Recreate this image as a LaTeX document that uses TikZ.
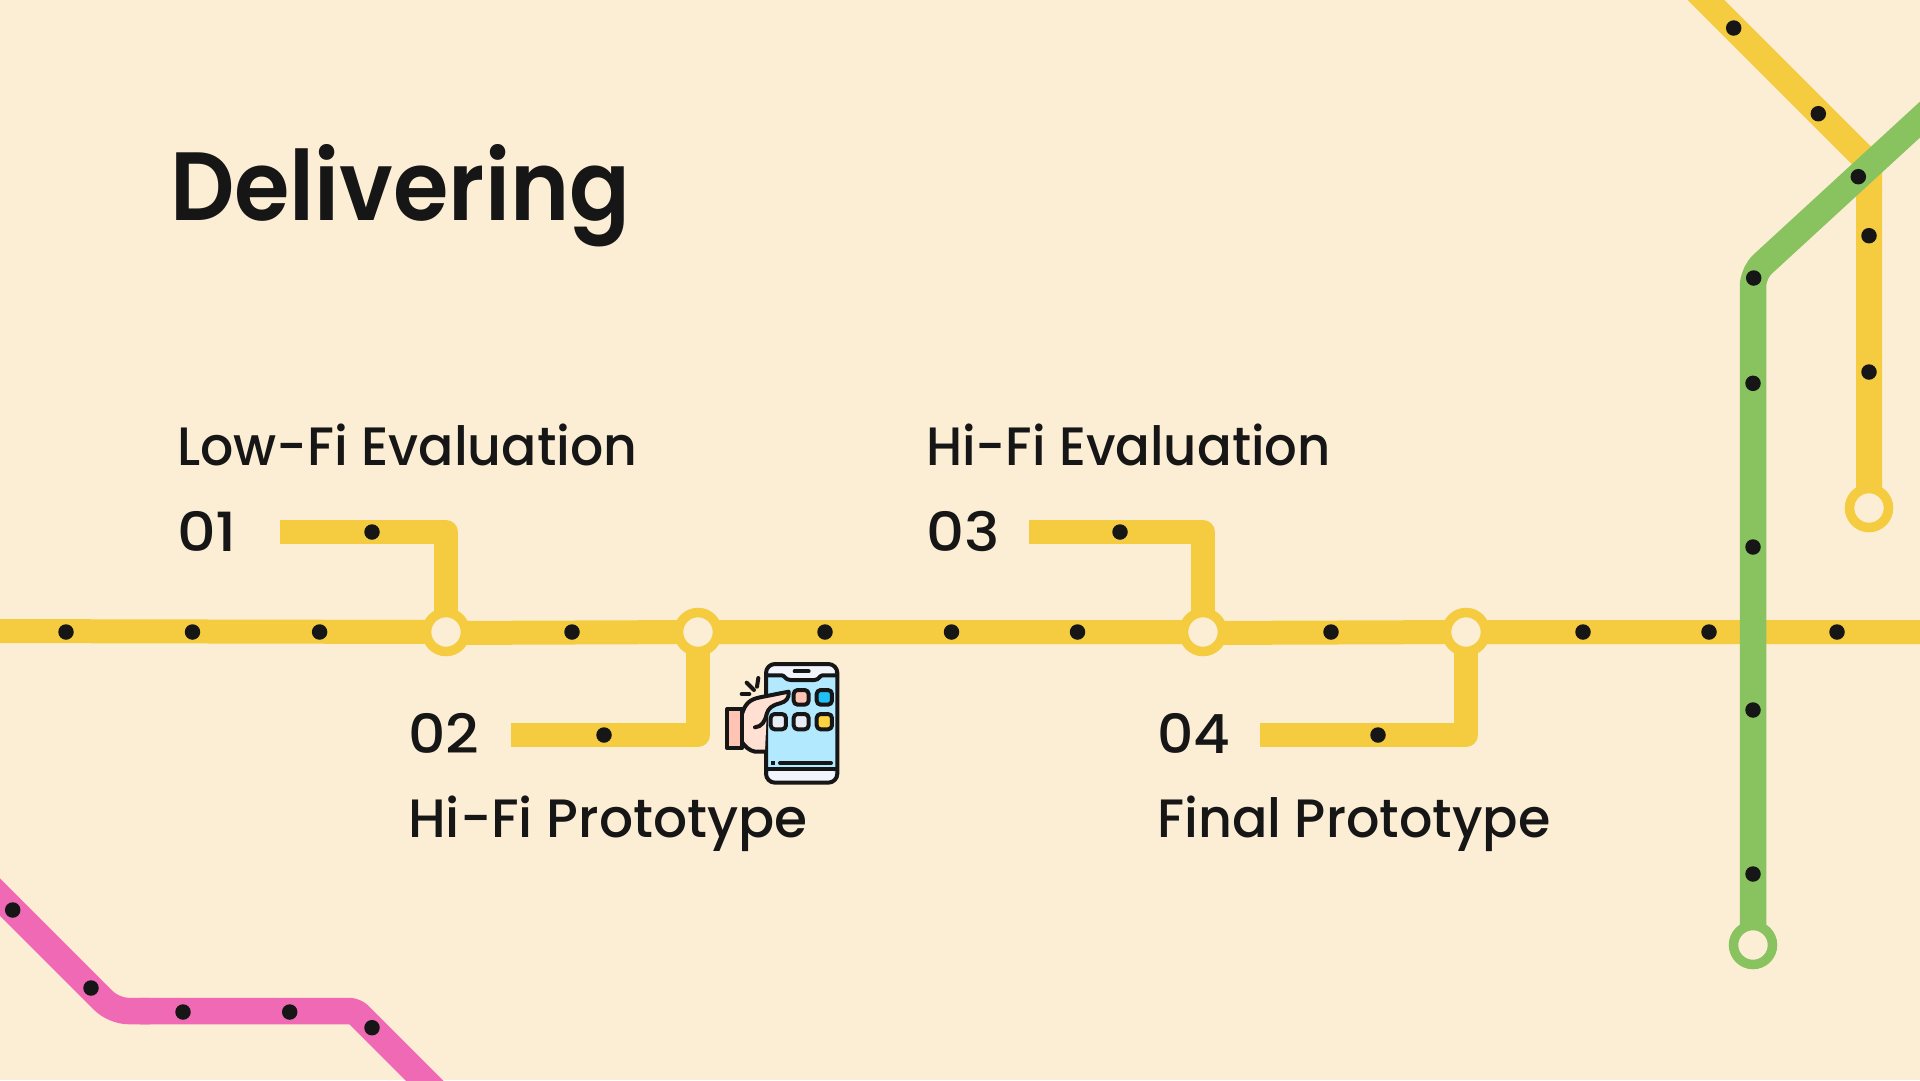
\documentclass[tikz,border=0pt]{standalone}
\usepackage{fontspec}
\setmainfont{Poppins}
\newfontfamily\titlefont{Poppins SemiBold}
\newfontfamily\labelfont{Poppins Medium}
\definecolor{bgc}{HTML}{FCEED5}
\definecolor{yel}{HTML}{F5CB3F}
\definecolor{grn}{HTML}{89C360}
\definecolor{pnk}{HTML}{F069B4}
\definecolor{ink}{HTML}{161616}
\definecolor{scr}{HTML}{B3E9FF}
\definecolor{band}{HTML}{F2F5FC}
\definecolor{skin}{HTML}{FFE0D2}
\definecolor{skind}{HTML}{FFC4B3}
\definecolor{appb}{HTML}{1EC0F5}
\definecolor{appy}{HTML}{FFD23F}
\definecolor{appw}{HTML}{E8ECF5}
\tikzset{
  x=1pt,y=-1pt,
  track/.style={line width=#1,line join=round},
  track/.default=24pt,
  stopdot/.style={circle,fill=ink,minimum size=15.5pt,inner sep=0pt},
  ringy/.style={circle,draw=yel,fill=bgc,line width=9.5pt,minimum size=39pt,inner sep=0pt},
  ringg/.style={circle,draw=grn,fill=bgc,line width=9.5pt,minimum size=39pt,inner sep=0pt},
  titletext/.style={anchor=base west,inner sep=0pt,text=ink,font=\titlefont\fontsize{97}{97}\selectfont},
  labeltext/.style={anchor=base west,inner sep=0pt,text=ink,font=\labelfont\fontsize{54}{54}\selectfont},
  icn/.style={line width=4pt,draw=ink,line join=round,line cap=round},
}
\begin{document}
\begin{tikzpicture}
\useasboundingbox (0,0) rectangle (1920,1080);
\clip (0,0) rectangle (1920,1080);
\fill[bgc] (0,0) rectangle (1920,1080);
% junctions and ends
\coordinate (r1) at (446,632);
\coordinate (r2) at (698,632);
\coordinate (r3) at (1203,632);
\coordinate (r4) at (1466,632);
\coordinate (ry) at (1869,508);
\coordinate (rg) at (1753,945);
\coordinate (w) at (-20,631);
\coordinate (e) at (1940,632);
\coordinate (b1) at (280,532);
\coordinate (c1) at (446,532);
\coordinate (b2) at (511,735);
\coordinate (c2) at (698,735);
\coordinate (b3) at (1029,532);
\coordinate (c3) at (1203,532);
\coordinate (b4) at (1260,735);
\coordinate (c4) at (1466,735);
% yellow lines
\draw[track,yel] (w) -- (r1);
\draw[track,yel] (446,633) -- (r2) -- (r3);
\draw[track,yel] (1203,633) -- (r4) -- (e);
\draw[track,yel] (b1) -- (c1) -- (r1);
\draw[track,yel] (b2) -- (c2) -- (r2);
\draw[track,yel] (b3) -- (c3) -- (r3);
\draw[track,yel] (b4) -- (c4) -- (r4);
\draw[track=26pt,yel] (1685,-21) -- (1869,163) -- (ry);
% green line
\draw[track=26.5pt,grn,rounded corners=13pt] (rg) -- (1753,273) -- (1950,92);
% pink line
\draw[track=26.5pt,pnk,rounded corners=14pt] (-30,867) -- (114,1011) -- (150,1011);
\draw[track=26.5pt,pnk,rounded corners=6pt] (140,1011) -- (355,1011) -- (450,1106);
% ring nodes
\node[ringy] (n1) at (r1) {};
\node[ringy] (n2) at (r2) {};
\node[ringy] (n3) at (r3) {};
\node[ringy] (n4) at (r4) {};
\node[ringy] (n5) at (ry) {};
\node[ringg] (n6) at (rg) {};
% stops
\foreach \i/\x/\y in {a/66/632,b/192.5/632,c/319.6/632,d/572/632,e/825/632,f/951.5/632,g/1077.5/632,h/1331/632,i/1583/632,j/1709/632,k/1837/632,
  l/372/532,m/604/735,n/1120/532,o/1378/735,
  p/1733.7/28,q/1818.3/113.7,r/1869/235.7,s/1869/372,
  t/1858.3/176.7,u/1753.7/278,v/1753/383.3,w/1753/547,x/1753/710,y/1753/874,
  z/12.7/910,aa/91/988,ab/183/1012,ac/289.7/1012,ad/372/1027.7}
  \node[stopdot] (s\i) at (\x,\y) {};
% texts
\node[titletext] (title) at (170,220) {\scalebox{0.925}[1]{Delivering}};
\node[labeltext] (l1) at (177,465) {\scalebox{0.966}[1]{Low-Fi Evaluation}};
\node[labeltext] (n01) at (177,551) {\scalebox{1.12}[1]{01}};
\node[labeltext] (n02) at (408,753) {\scalebox{1.08}[1]{02}};
\node[labeltext] (l2) at (408,837) {\scalebox{0.99}[1]{Hi-Fi Prototype}};
\node[labeltext] (l3) at (926,465) {\scalebox{0.95}[1]{Hi-Fi Evaluation}};
\node[labeltext] (n03) at (926,551) {\scalebox{1.1}[1]{03}};
\node[labeltext] (n04) at (1157,753) {\scalebox{1.05}[1]{04}};
\node[labeltext] (l4) at (1157,837) {\scalebox{0.97}[1]{Final Prototype}};
% phone icon
\begin{scope}[shift={(700,640)},x=0.3333pt,y=-0.3333pt]
  \fill[scr,rounded corners=9pt] (198,72) rectangle (412,428);
  \fill[band,rounded corners=9pt] (200,74) -- (410,74) -- (410,106) -- (200,106) -- cycle;
  \fill[band] (245,100) -- (368,100) -- (343,120) -- (272,120) -- cycle;
  \fill[band,rounded corners=9pt] (200,388) -- (410,388) -- (410,426) -- (200,426) -- cycle;
  \draw[icn] (200,106) -- (245,106) .. controls (255,106) and (255,120) .. (272,120) -- (343,120) .. controls (358,120) and (358,106) .. (368,106) -- (410,106);
  \draw[icn] (200,388) -- (410,388);
  \draw[icn,rounded corners=9pt] (198,72) rectangle (412,428);
  \draw[icn] (284,94) -- (326,94);
  \draw[icn] (240,369) -- (393,369);
  \fill[ink] (214,363) rectangle (226,375);
  \draw[icn,fill=skind,rounded corners=4pt] (281,150) rectangle (326,194);
  \draw[icn,fill=appb,rounded corners=4pt] (350,150) rectangle (396,194);
  \draw[icn,fill=appw,rounded corners=4pt] (212,222) rectangle (258,268);
  \draw[icn,fill=appw,rounded corners=4pt] (281,222) rectangle (326,268);
  \draw[icn,fill=appy,rounded corners=4pt] (350,222) rectangle (396,268);
  % hand
  \fill[skin] (125,225) .. controls (135,190) and (150,178) .. (180,172) -- (266,155) .. controls (268,175) and (258,185) .. (240,190) .. controls (215,196) and (205,205) .. (200,225) -- (195,335) -- (165,335) .. controls (148,332) and (135,320) .. (125,305) -- cycle;
  \draw[icn] (125,225) .. controls (135,190) and (150,178) .. (180,172) -- (266,155) .. controls (268,175) and (258,185) .. (240,190) .. controls (215,196) and (205,205) .. (200,222) .. controls (195,245) and (185,260) .. (165,262);
  \draw[icn] (125,305) .. controls (135,320) and (148,332) .. (165,335) -- (195,335);
  \draw[icn,fill=skind] (82,207) rectangle (125,325);
  \draw[icn] (125,162) -- (148,162);
  \draw[icn] (140,128) -- (162,150);
  \draw[icn] (175,114) -- (171,140);
\end{scope}
\end{tikzpicture}
\end{document}
